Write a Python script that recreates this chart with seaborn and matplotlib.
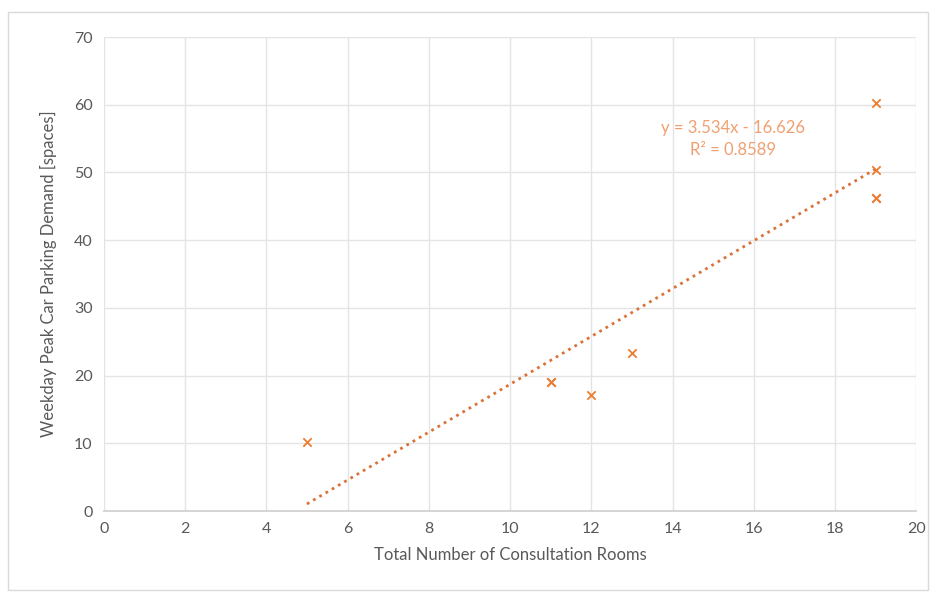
import numpy as np
import pandas as pd
import matplotlib
matplotlib.use("Agg")
import matplotlib.pyplot as plt
from matplotlib.patches import Rectangle
import seaborn as sns

# Surveyed sites: consultation rooms vs weekday peak parking demand
rooms = [5, 11, 11, 12, 13, 19, 19, 19, 19]
demand = [10.2, 19.1, 19.1, 17.2, 23.3, 60.3, 50.3, 46.2, 46.2]

# Linear trend reported for the data
slope = 3.534
intercept = -16.626
r_squared = 0.8589

x_ticks = list(range(0, 21, 2))
y_ticks = list(range(0, 71, 10))

sns.set_theme(style="whitegrid")
plt.rcParams["font.family"] = ["Lato", "DejaVu Sans"]

orange = "#ED7D31"
text_grey = "#595959"

fig = plt.figure(figsize=(9.35, 5.97), dpi=100)
ax = fig.add_axes([0.111, 0.144, 0.869, 0.794])

df = pd.DataFrame({"rooms": rooms, "demand": demand})
sns.scatterplot(data=df, x="rooms", y="demand", marker="x", color=orange,
                s=36, linewidth=1.3, ax=ax, zorder=3)

trend_x = np.array([min(rooms), max(rooms)])
trend_y = slope * trend_x + intercept
ax.plot(trend_x, trend_y, linestyle=(0, (1, 1.6)), color="#D9733A",
        linewidth=2.0, zorder=2)

ax.text(15.5, 55.0, f"y = {slope:.3f}x - {abs(intercept):.3f}\nR² = {r_squared:.4f}",
        color="#F0A070", fontsize=12, ha="center", va="center",
        linespacing=1.45)

ax.set_xlim(0, 20)
ax.set_ylim(0, 70)
ax.set_xticks(x_ticks)
ax.set_yticks(y_ticks)
ax.grid(True, color="#E4E4E4", linewidth=1.0)
for side in ["top", "right", "left"]:
    ax.spines[side].set_visible(False)
ax.spines["bottom"].set_color("#D0D0D0")
ax.tick_params(axis="both", colors=text_grey, labelsize=11.5, length=0, pad=8)

ax.set_xlabel("Total Number of Consultation Rooms", color=text_grey,
              fontsize=12, labelpad=8)
ax.set_ylabel("Weekday Peak Car Parking Demand [spaces]", color=text_grey,
              fontsize=12, labelpad=12)

fig.patches.append(Rectangle((0.009, 0.012), 0.983, 0.968, transform=fig.transFigure,
                             fill=False, edgecolor="#DADADA", linewidth=1.0))

fig.savefig("out.png", dpi=100)
